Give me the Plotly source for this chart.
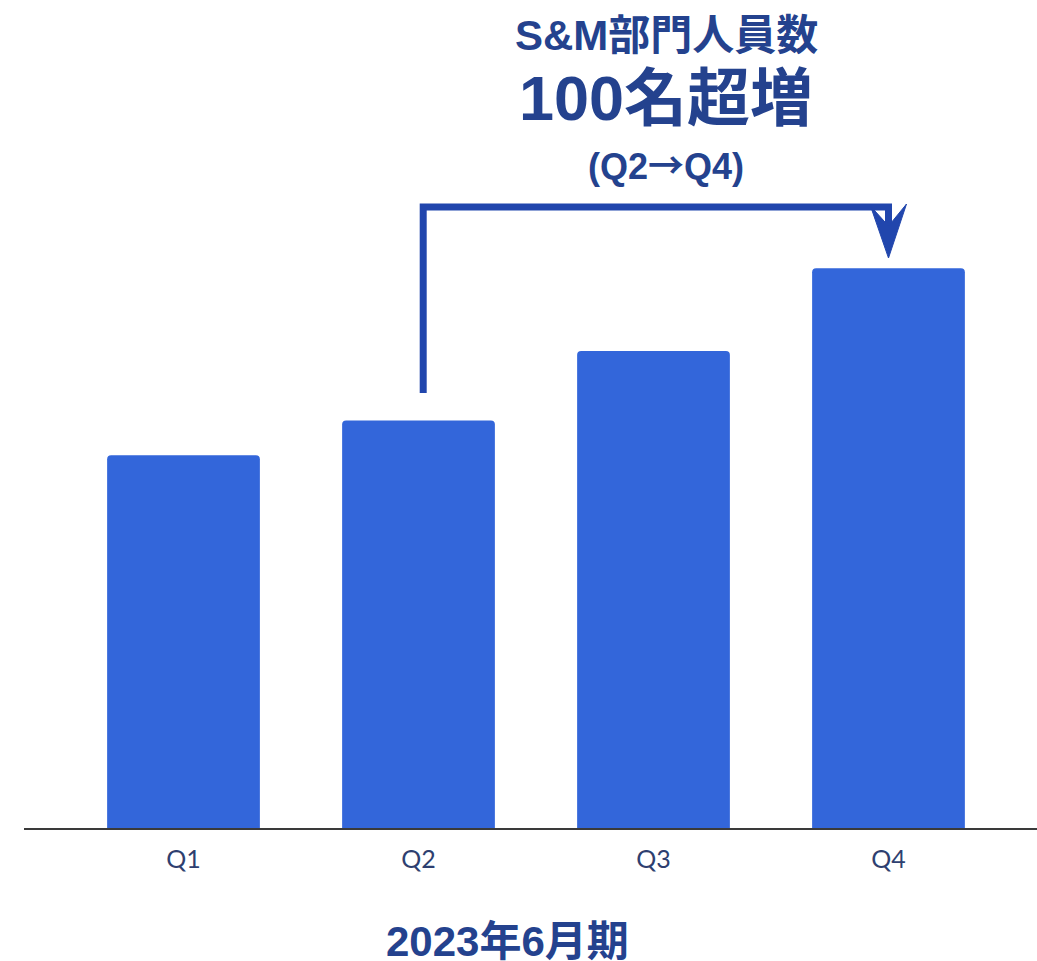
import plotly.graph_objects as go

# ---- data ----
categories = ["Q1", "Q2", "Q3", "Q4"]
headcount = [257, 281, 329, 386]          # S&M headcount
title_lines = ["S&M部門人員数", "100名超増",
               "(Q2<span style='font-family:Noto Sans CJK JP'>→</span>Q4)"]
x_title = "2023年6月期"

# ---- layout constants ----
W, H = 1037, 961
ML, MR, MT, MB = 24, 0, 0, 133
PW, PH = W - ML - MR, H - MT - MB
X_RANGE = [(ML - 183.5) / 235, (W - MR - 183.5) / 235]
Y_RANGE = [0, 571]
sx = PW / (X_RANGE[1] - X_RANGE[0])
sy = PH / (Y_RANGE[1] - Y_RANGE[0])

def dx(px):  # pixel x -> data x
    return X_RANGE[0] + (px - ML) / sx

def dy(py):  # pixel y -> data y
    return Y_RANGE[0] + (MT + PH - py) / sy

BAR = "#3366DA"
NAVY = "#24428E"
ARROW = "#2146AD"

xs = list(range(len(categories)))

fig = go.Figure(go.Bar(
    x=xs, y=headcount, width=0.65,
    marker=dict(color=BAR, line=dict(width=0), cornerradius=4),
    hoverinfo="skip",
))

# bracket arrow from Q2 to Q4
x2 = xs[1] + 0.02
x4 = xs[3]
y_start = headcount[1] + 19
y_top = dy(207)
fig.add_shape(type="path",
              path=f"M {x2},{y_start} L {x2},{y_top} L {x4},{y_top} L {x4},{dy(228)}",
              line=dict(color=ARROW, width=7), xref="x", yref="y")
# arrow head (notched)
hw = 18 / sx
fig.add_shape(type="path",
              path=(f"M {x4},{dy(258)} L {x4 - hw},{dy(206)} L {x4},{dy(226)} "
                    f"L {x4 + hw},{dy(204)} Z"),
              fillcolor=ARROW, line=dict(color=ARROW, width=1), xref="x", yref="y")

font_lat = "Liberation Sans, Noto Sans CJK JP, sans-serif"
tx = (666 - ML) / PW
for txt, ypx, size in zip(title_lines, [36, 98, 163], [42, 63, 36]):
    fig.add_annotation(text=f"<b>{txt}</b>", xref="paper", yref="paper",
                       x=tx, y=(MT + PH - ypx) / PH, xanchor="center", yanchor="middle",
                       showarrow=False, font=dict(family=font_lat, size=size, color=NAVY))

fig.add_annotation(text=f"<b>{x_title}</b>", xref="paper", yref="paper",
                   x=(507 - ML) / PW, y=(MT + PH - 941) / PH,
                   xanchor="center", yanchor="middle", showarrow=False,
                   font=dict(family=font_lat, size=42, color=NAVY))

fig.update_layout(
    width=W, height=H,
    margin=dict(l=ML, r=MR, t=MT, b=MB),
    paper_bgcolor="white", plot_bgcolor="white",
    showlegend=False,
    xaxis=dict(range=X_RANGE, tickvals=xs, ticktext=categories,
               showline=True, linecolor="#3a3a3a", linewidth=2,
               showgrid=False, zeroline=False, ticks="",
               ticklabelstandoff=8,
               tickfont=dict(family="Lato, Open Sans, sans-serif", size=25, color="#2E3F70")),
    yaxis=dict(range=Y_RANGE, visible=False, showgrid=False, zeroline=False),
)

fig.write_html("out.html")
